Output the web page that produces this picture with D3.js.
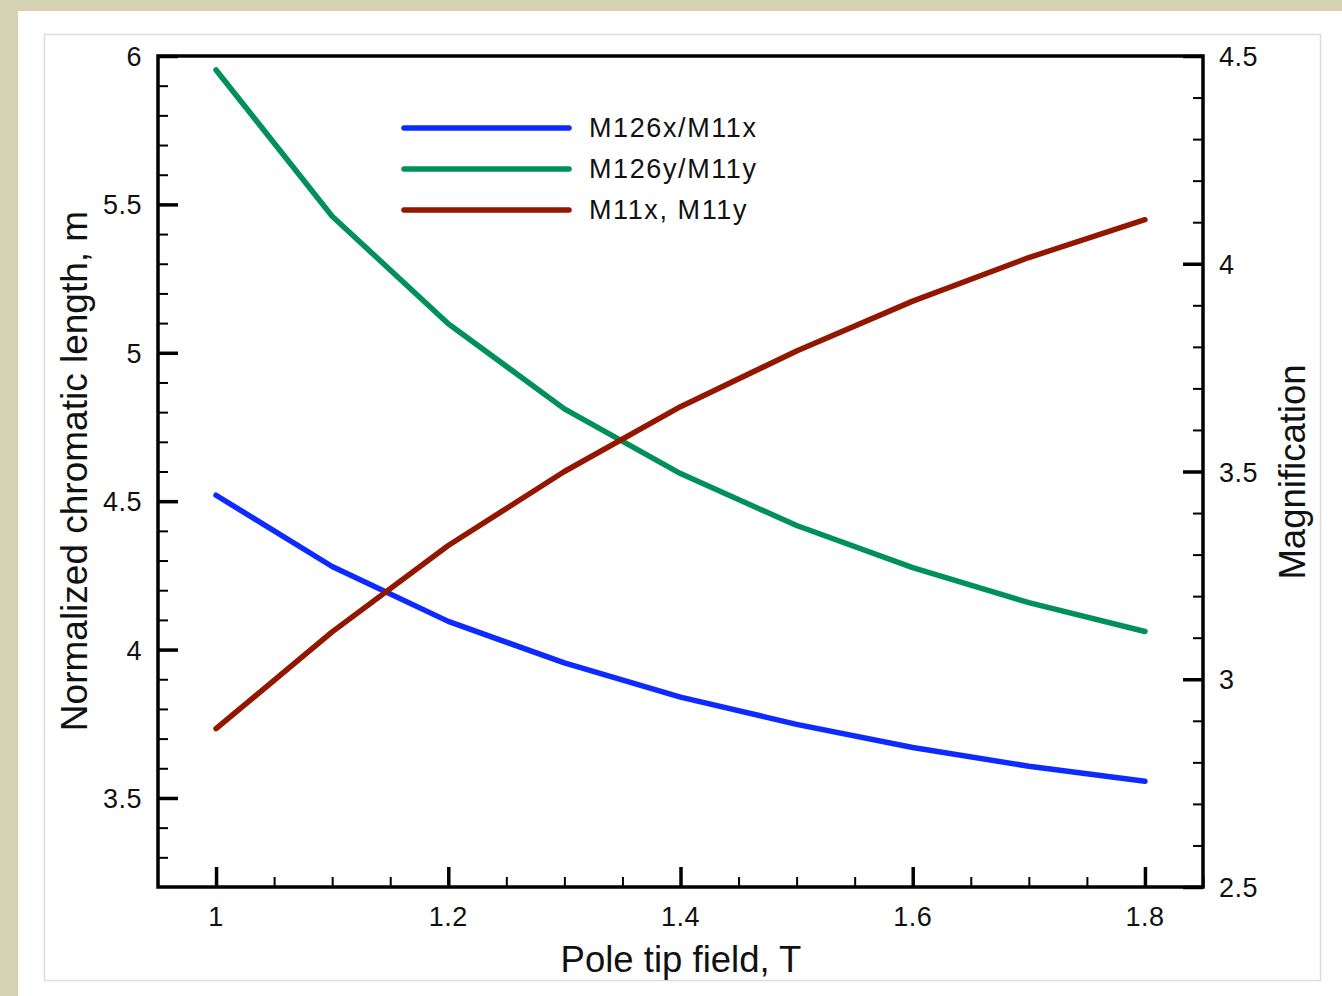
<!DOCTYPE html>
<html>
<head>
<meta charset="utf-8">
<script src="https://cdn.jsdelivr.net/npm/d3@7"></script>
<style>
  html, body { margin: 0; padding: 0; background: #d5d2b4; }
  svg { display: block; }
  text { font-family: "Liberation Sans", Arial, Helvetica, sans-serif; fill: #111; }
</style>
</head>
<body>
<svg id="chart"></svg>
<script>
// данные графика
const fieldT = [1.0, 1.1, 1.2, 1.3, 1.4, 1.5, 1.6, 1.7, 1.8];
const ratioX = [4.52, 4.28, 4.095, 3.955, 3.84, 3.748, 3.67, 3.607, 3.556];   // M126x/M11x, левая ось
const ratioY = [5.953, 5.46, 5.098, 4.811, 4.593, 4.418, 4.276, 4.158, 4.061]; // M126y/M11y, левая ось
const magM11 = [2.881, 3.114, 3.322, 3.5, 3.656, 3.79, 3.91, 4.015, 4.106];    // M11x, M11y, правая ось

const seriesNames = ["M126x/M11x", "M126y/M11y", "M11x, M11y"];
const seriesColors = ["#0d2bff", "#00905a", "#931600"];

const xTicks = [1, 1.2, 1.4, 1.6, 1.8];
const yLeftTicks = [3.5, 4, 4.5, 5, 5.5, 6];
const yRightTicks = [2.5, 3, 3.5, 4, 4.5];

const width = 1342, height = 996;
const svg = d3.select("#chart").attr("width", width).attr("height", height);

// фон: белая панель и внутренняя рамка
svg.append("rect").attr("x", 18).attr("y", 11).attr("width", width - 18).attr("height", height - 11)
    .attr("fill", "#fff");
svg.append("rect").attr("x", 44.5).attr("y", 34.5).attr("width", 1276).attr("height", 946)
    .attr("fill", "#fff").attr("stroke", "#dcdcdc").attr("stroke-width", 1.5);

// область графика
const plot = { left: 158, right: 1203, top: 56, bottom: 887 };

const x = d3.scaleLinear().domain([0.95, 1.85]).range([plot.left, plot.right]);
const yL = d3.scaleLinear().domain([3.2, 6]).range([plot.bottom, plot.top]);
const yR = d3.scaleLinear().domain([2.5, 4.5]).range([plot.bottom, plot.top]);

const g = svg.append("g");

// линии данных
const lineL = d3.line().x((d, i) => x(fieldT[i])).y(d => yL(d));
const lineR = d3.line().x((d, i) => x(fieldT[i])).y(d => yR(d));

const seriesPaths = [
    { values: ratioX, line: lineL },
    { values: ratioY, line: lineL },
    { values: magM11, line: lineR }
];

seriesPaths.forEach((s, i) => {
    g.append("path")
        .datum(s.values)
        .attr("d", s.line)
        .attr("fill", "none")
        .attr("stroke", seriesColors[i])
        .attr("stroke-width", 5.5)
        .attr("stroke-linecap", "round")
        .attr("stroke-linejoin", "round");
});

// оси (тики внутрь)
const bottomAxis = g.append("g").attr("transform", `translate(0,${plot.bottom})`)
    .call(d3.axisTop(x).tickValues(d3.range(1, 1.851, 0.05)).tickSize(10).tickFormat(""));
const bottomMajor = g.append("g").attr("transform", `translate(0,${plot.bottom})`)
    .call(d3.axisTop(x).tickValues(xTicks).tickSize(20).tickFormat(""));

const leftMinor = g.append("g").attr("transform", `translate(${plot.left},0)`)
    .call(d3.axisRight(yL).tickValues(d3.range(3.3, 6.001, 0.1)).tickSize(10).tickFormat(""));
const leftMajor = g.append("g").attr("transform", `translate(${plot.left},0)`)
    .call(d3.axisRight(yL).tickValues(yLeftTicks).tickSize(20).tickFormat(""));

const rightMinor = g.append("g").attr("transform", `translate(${plot.right},0)`)
    .call(d3.axisLeft(yR).tickValues(d3.range(2.6, 4.5, 0.1)).tickSize(10).tickFormat(""));
const rightMajor = g.append("g").attr("transform", `translate(${plot.right},0)`)
    .call(d3.axisLeft(yR).tickValues(yRightTicks).tickSize(20).tickFormat(""));

[bottomAxis, bottomMajor, leftMinor, leftMajor, rightMinor, rightMajor].forEach(a => {
    a.select(".domain").remove();
    a.selectAll(".tick line").attr("stroke", "#000").attr("stroke-width", 2);
});
[bottomMajor, leftMajor, rightMajor].forEach(a => a.selectAll(".tick line").attr("stroke-width", 3.5));

// рамка
g.append("rect")
    .attr("x", plot.left).attr("y", plot.top)
    .attr("width", plot.right - plot.left).attr("height", plot.bottom - plot.top)
    .attr("fill", "none").attr("stroke", "#000").attr("stroke-width", 3.5);

// подписи тиков
const fmt = d3.format("");
g.selectAll(".xlab").data(xTicks).enter().append("text")
    .attr("x", d => x(d)).attr("y", 926)
    .attr("text-anchor", "middle").attr("font-size", 27).attr("letter-spacing", 0.5)
    .text(d => fmt(d));

g.selectAll(".ylab").data(yLeftTicks).enter().append("text")
    .attr("x", 142).attr("y", d => yL(d) + 10)
    .attr("text-anchor", "end").attr("font-size", 27).attr("letter-spacing", 0.5)
    .text(d => fmt(d));

g.selectAll(".yrlab").data(yRightTicks).enter().append("text")
    .attr("x", 1219).attr("y", d => yR(d) + 10)
    .attr("text-anchor", "start").attr("font-size", 27).attr("letter-spacing", 0.5)
    .text(d => fmt(d));

// заголовки осей
g.append("text").attr("x", 681).attr("y", 972)
    .attr("text-anchor", "middle").attr("font-size", 36.5)
    .text("Pole tip field, T");

g.append("text")
    .attr("transform", `translate(87,471) rotate(-90)`)
    .attr("text-anchor", "middle").attr("font-size", 37)
    .text("Normalized chromatic length, m");

g.append("text")
    .attr("transform", `translate(1305,472) rotate(-90)`)
    .attr("text-anchor", "middle").attr("font-size", 36.5)
    .text("Magnification");

// легенда
const legend = g.append("g");
seriesNames.forEach((name, i) => {
    const ly = 128 + i * 41;
    legend.append("line")
        .attr("x1", 404).attr("x2", 569).attr("y1", ly).attr("y2", ly)
        .attr("stroke", seriesColors[i]).attr("stroke-width", 5.5).attr("stroke-linecap", "round");
    legend.append("text")
        .attr("x", 589).attr("y", ly + 9)
        .attr("font-size", 27).attr("letter-spacing", 1.6)
        .text(name);
});
</script>
</body>
</html>
